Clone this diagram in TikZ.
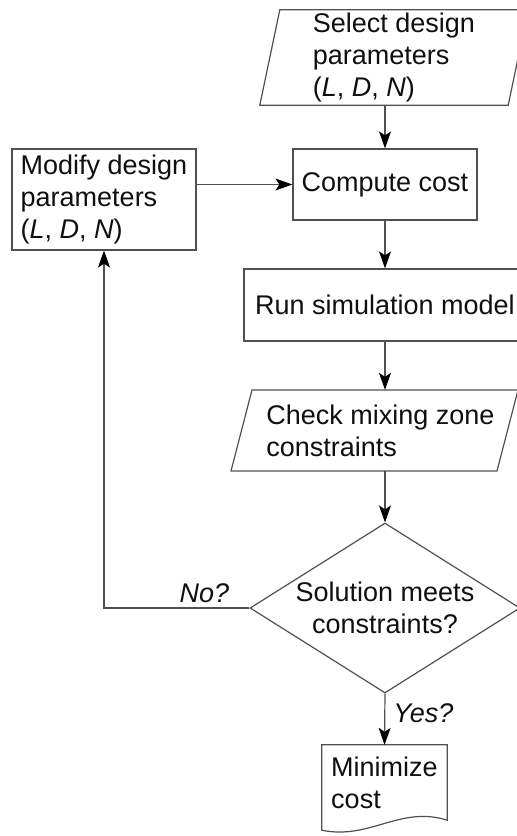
\documentclass[tikz,border=0pt]{standalone}
\usepackage{fontspec}
\setmainfont{Liberation Sans}
\usetikzlibrary{arrows.meta,shapes.geometric}
\definecolor{ln}{RGB}{80,80,80}
\definecolor{tx}{RGB}{15,15,15}
\begin{document}
\begin{tikzpicture}[x=1pt,y=-1pt,
  every node/.style={font=\fontsize{27}{32}\selectfont, text=tx, inner sep=0pt},
  box/.style={draw=ln, line width=1.2pt, rectangle},
  shp/.style={draw=ln, line width=1.2pt},
  arr/.style={draw=ln, line width=1.2pt, -{Stealth[length=17pt,width=12pt,inset=4pt,fill=black,color=black]}},
  lbl/.style={font=\fontsize{27}{32}\selectfont\itshape},
]
\useasboundingbox (0,0) rectangle (517,836);

% Select design parameters (parallelogram)
\node[minimum width=248pt, minimum height=95pt, align=left] (sel) at (394,57.5)
  {Select design\\parameters\\(\textit{L}, \textit{D}, \textit{N})};
\draw[shp] ([xshift=10pt]sel.north west) -- ([xshift=10pt]sel.north east)
  -- ([xshift=-10pt]sel.south east) -- ([xshift=-10pt]sel.south west) -- cycle;

% Compute cost
\node[box, minimum width=184pt, minimum height=71pt] (comp) at (385,184.5) {Compute cost};

% Modify design parameters
\node[box, minimum width=184pt, minimum height=101pt, align=left] (mod) at (104,199.5)
  {Modify design\\parameters\\(\textit{L}, \textit{D}, \textit{N})};

% Run simulation model
\node[box, minimum width=282pt, minimum height=72pt] (run) at (385,305) {Run simulation model};

% Check mixing zone constraints (parallelogram)
\node[minimum height=81pt, align=left] (chk) at (380.5,430.5)
  {Check mixing zone\\constraints};
\draw[shp] ([shift={(-128.5,-40.5)}]chk.center) -- ([shift={(137.5,-40.5)}]chk.center)
  -- ([shift={(116.5,40.5)}]chk.center) -- ([shift={(-149.5,40.5)}]chk.center) -- cycle;

% Decision
\node[diamond, draw=ln, line width=1.2pt, aspect=1.588, minimum width=270pt,
  minimum height=170pt, inner sep=-3pt, align=center] (dia) at (385,608)
  {Solution meets\\constraints?};

% Minimize cost (document)
\node[minimum width=125pt, minimum height=75pt, align=left] (mini) at (384.5,782.5)
  {Minimize\\cost};
\draw[shp] (mini.south west) -- (mini.north west) -- (mini.north east) -- (mini.south east)
  .. controls ([shift={(-47,-15)}]mini.south east) and ([shift={(48,20)}]mini.south west)
  .. ([yshift=-10pt]mini.south west) -- cycle;

% Connectors
\draw[arr] (sel.south -| comp.north) -- (comp.north);
\draw[arr] (mod.east |- comp.west) -- (comp.west);
\draw[arr] (comp.south) -- (run.north);
\draw[arr] (run.south) -- (run.south |- chk.north);
\draw[arr] (run.south |- chk.south) -- (dia.north);
\draw[arr] (dia.west) -- node[lbl, pos=0.31, anchor=base, yshift=6pt] {No?}
  (dia.west -| mod.south) -- (mod.south);
\draw[arr] (dia.south) -- node[lbl, pos=0.56, anchor=base west, xshift=8pt] {Yes?}
  (mini.north);
\end{tikzpicture}
\end{document}
